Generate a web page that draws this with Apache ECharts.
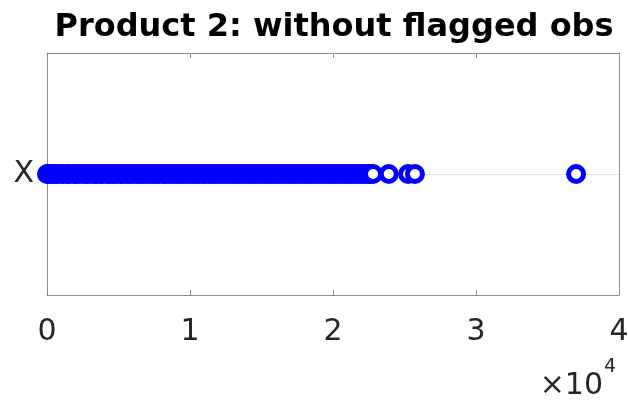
<!DOCTYPE html>
<html>
<head>
<meta charset="utf-8">
<script src="https://cdn.jsdelivr.net/npm/echarts@6/dist/echarts.min.js"></script>
<style>
  html, body { margin: 0; padding: 0; background: #fff; }
  #chart { width: 628px; height: 402px; }
</style>
</head>
<body>
<div id="chart"></div>
<script>
// Observed X values (flagged observations removed)
const xValues = [
  0, 120, 310, 540, 700, 980, 1150, 1420, 1600, 1890, 2050, 2300, 2580, 2760,
  3010, 3290, 3450, 3720, 3900, 4180, 4400, 4610, 4850, 5120, 5300, 5560, 5790,
  6010, 6270, 6480, 6700, 6950, 7180, 7400, 7660, 7850, 8120, 8330, 8590, 8800,
  9040, 9270, 9510, 9730, 9960, 10200, 10430, 10650, 10890, 11110, 11360, 11580,
  11800, 12050, 12270, 12500, 12740, 12960, 13200, 13430, 13650, 13900, 14120,
  14350, 14590, 14800, 15040, 15280, 15500, 15730, 15960, 16200, 16420, 16670,
  16890, 17120, 17350, 17580, 17810, 18050, 18270, 18500, 18740, 18960, 19200,
  19430, 19660, 19890, 20130, 20350, 20580, 20820, 21050, 21290, 21500, 21740,
  21980, 22200, 22450, 22600, 22800, 23900, 25250, 25730, 37000
];
const rowLabel = 'X';
const xTickLabels = ['0', '1', '2', '3', '4'];
const xStep = 10000;
const exponentBase = '×10';
const exponent = '4';

const chart = echarts.init(document.getElementById('chart'));
const font = 'DejaVu Sans, sans-serif';
const frameColor = '#8c8c8c';
const textColor = '#262626';

const xBase = {
  type: 'value', min: 0, max: xStep * (xTickLabels.length - 1), interval: xStep,
  axisLine: { show: true, onZero: false, lineStyle: { color: frameColor, width: 1 } },
  axisTick: { show: true, inside: true, length: 5, lineStyle: { color: frameColor } },
  splitLine: { show: false }
};

chart.setOption({
  animation: false,
  title: {
    text: 'Product 2: without flagged obs',
    left: 329, top: 7, textAlign: 'center',
    textStyle: { fontFamily: font, fontWeight: 'bold', fontSize: 32, color: '#000' }
  },
  grid: { left: 47, right: 9, top: 53, bottom: 107, outerBoundsMode: 'none', containLabel: false },
  xAxis: [
    Object.assign({}, xBase, {
      position: 'bottom',
      axisLabel: {
        margin: 22, fontFamily: font, fontSize: 30, color: textColor,
        formatter: v => xTickLabels[Math.round(v / xStep)]
      }
    }),
    Object.assign({}, xBase, { position: 'top', axisLabel: { show: false } })
  ],
  yAxis: [
    {
      type: 'value', min: 0, max: 2, interval: 1, position: 'left',
      axisLine: { show: true, onZero: false, lineStyle: { color: frameColor } },
      axisTick: { show: false },
      axisLabel: {
        margin: 13, fontFamily: font, fontSize: 30, color: textColor,
        formatter: v => (v === 1 ? rowLabel : '')
      },
      splitLine: { show: true, showMinLine: false, showMaxLine: false, lineStyle: { color: '#e3e3e3', width: 1 } }
    },
    {
      type: 'value', min: 0, max: 2, interval: 1, position: 'right',
      axisLine: { show: true, onZero: false, lineStyle: { color: frameColor } },
      axisTick: { show: false }, axisLabel: { show: false }, splitLine: { show: false }
    }
  ],
  graphic: [
    {
      type: 'text', x: 603, y: 386,
      style: {
        text: exponentBase, fontFamily: font, fontSize: 30, fill: textColor,
        align: 'right', verticalAlign: 'middle'
      }
    },
    {
      type: 'text', x: 604, y: 367,
      style: {
        text: exponent, fontFamily: font, fontSize: 19, fill: textColor,
        align: 'left', verticalAlign: 'middle'
      }
    }
  ],
  series: [{
    type: 'scatter',
    xAxisIndex: 0, yAxisIndex: 0,
    data: xValues.map(v => [v, 1]),
    symbol: 'circle',
    symbolSize: 15,
    itemStyle: { color: '#fff', borderColor: '#0000ff', borderWidth: 5, opacity: 1 },
    emphasis: { disabled: true }
  }]
});
</script>
</body>
</html>
